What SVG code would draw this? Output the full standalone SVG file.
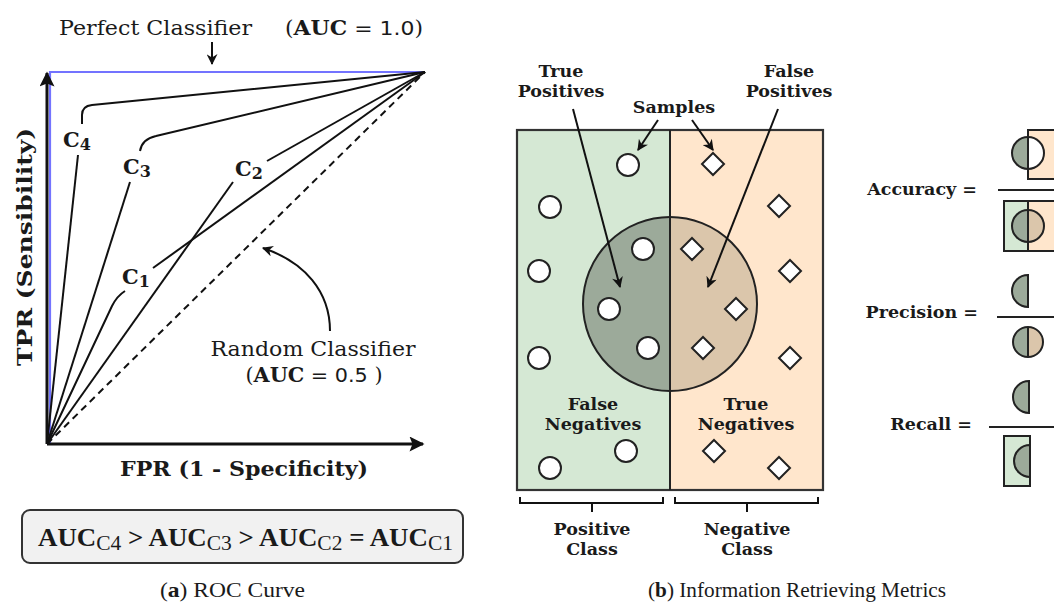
<svg xmlns="http://www.w3.org/2000/svg" width="1054" height="603" viewBox="0 0 1054 603">
<style>
.serif{font-family:"DejaVu Serif","Liberation Serif",serif;fill:#1a1a1a}
.bold{font-family:"DejaVu Serif","Liberation Serif",serif;font-weight:bold;fill:#1a1a1a}
.sans{font-family:"DejaVu Sans","Liberation Sans",sans-serif;font-weight:normal}
.cap{font-family:"Liberation Serif","DejaVu Serif",serif;fill:#1a1a1a}
.lbl{font-size:17.5px;text-anchor:middle}
.ln{fill:none;stroke:#111;stroke-width:2}
.arr{fill:none;stroke:#111;stroke-width:2;marker-end:url(#ah)}
.smp{fill:#fff;stroke:#222;stroke-width:2}
.edge{stroke:#222;stroke-width:2}
.gr{fill:#d5e8d4}
.or{fill:#ffe6cc}
.cg{fill:#9caa9a}
.ct{fill:#dbc6ab}
</style>
<defs>
<marker id="ah" viewBox="0 0 10 10" refX="9" refY="5" markerWidth="12" markerHeight="11" markerUnits="userSpaceOnUse" orient="auto">
<path d="M0,0 L10,5 L0,10 L3,5 z" fill="#111"/>
</marker>
<marker id="ax" viewBox="0 0 10 10" refX="9" refY="5" markerWidth="17" markerHeight="15" markerUnits="userSpaceOnUse" orient="auto">
<path d="M0,0 L10,5 L0,10 L2,5 z" fill="#111"/>
</marker>
</defs>
<rect width="1054" height="603" fill="#fff"/>

<!-- ROC chart -->
<g id="roc-perfect">
<path d="M50,444 V72 H425" fill="none" stroke="#7373ff" stroke-width="2.2"/>
</g>
<g id="roc-curves">
<path class="ln" d="M47,444 L78,155"/>
<path class="ln" d="M82,124 L82,115 Q82,106 92,105 L425,72"/>
<path class="ln" d="M47,444 L130,182"/>
<path class="ln" d="M140,151 Q142,139 156,136 L425,72"/>
<path class="ln" d="M47,444 L233,182"/>
<path class="ln" d="M267,161 L425,72"/>
<path class="ln" d="M47,444 L112,306 Q117,296 125,291"/>
<path class="ln" d="M153,268 L425,72"/>
<path class="ln" d="M47,444 L425,72" stroke-dasharray="7,5"/>
</g>
<g id="roc-labels">
<text class="bold" x="63" y="147" font-size="21">C<tspan font-size="16" dy="3">4</tspan></text>
<text class="bold" x="123" y="174" font-size="21">C<tspan font-size="16" dy="3">3</tspan></text>
<text class="bold" x="235" y="176" font-size="21">C<tspan font-size="16" dy="3">2</tspan></text>
<text class="bold" x="122" y="284" font-size="21">C<tspan font-size="16" dy="3">1</tspan></text>
</g>
<g id="roc-title">
<text class="serif" x="59" y="35" font-size="20" textLength="193" lengthAdjust="spacingAndGlyphs">Perfect Classifier</text>
<text class="serif" x="285" y="35" font-size="20" textLength="138" lengthAdjust="spacingAndGlyphs">(<tspan class="bold">AUC</tspan><tspan class="sans"> = 1.0</tspan>)</text>
</g>
<g id="roc-random">
<text class="serif" x="313" y="356" font-size="20" text-anchor="middle" textLength="205" lengthAdjust="spacingAndGlyphs">Random Classifier</text>
<text class="serif" x="314" y="382" font-size="20" text-anchor="middle" textLength="137" lengthAdjust="spacingAndGlyphs">(<tspan class="bold">AUC</tspan><tspan class="sans"> = 0.5 </tspan>)</text>
</g>
<g id="roc-axes-labels">
<text class="bold" x="244" y="476" font-size="20" text-anchor="middle" textLength="248" lengthAdjust="spacingAndGlyphs">FPR (1 - Specificity)</text>
<text class="bold" transform="translate(32,247) rotate(-90)" x="0" y="0" font-size="20" text-anchor="middle" textLength="238" lengthAdjust="spacingAndGlyphs">TPR (Sensibility)</text>
</g>
<g id="auc-box">
<rect x="22" y="510" width="441" height="53" rx="8" fill="#f1f1f1" stroke="#333" stroke-width="2"/>
<text class="cap" x="38" y="546" font-size="25" font-weight="bold" textLength="415" lengthAdjust="spacingAndGlyphs">AUC<tspan font-weight="normal" font-size="20" dy="4">C4</tspan><tspan dy="-4"> &gt; AUC</tspan><tspan font-weight="normal" font-size="20" dy="4">C3</tspan><tspan dy="-4"> &gt; AUC</tspan><tspan font-weight="normal" font-size="20" dy="4">C2</tspan><tspan dy="-4">  = AUC</tspan><tspan font-weight="normal" font-size="20" dy="4">C1</tspan></text>
</g>
<g id="caption-a">
<text class="cap" x="160" y="597" font-size="21" textLength="145" lengthAdjust="spacingAndGlyphs">(<tspan font-weight="bold">a</tspan>) ROC Curve</text>
</g>

<!-- Information retrieval panel -->
<g id="classes">
<rect class="gr" x="517" y="130" width="153" height="360"/>
<rect class="or" x="670" y="130" width="153" height="360"/>
<path class="cg" d="M670,217 A87,87 0 0 0 670,391 Z"/>
<path class="ct" d="M670,217 A87,87 0 0 1 670,391 Z"/>
<circle cx="670" cy="304" r="87" fill="none" stroke="#222" stroke-width="2"/>
<rect x="517" y="130" width="306" height="360" fill="none" stroke="#333" stroke-width="2.2"/>
<line class="edge" x1="670" y1="130" x2="670" y2="490"/>
</g>
<g id="positive-samples">
<circle class="smp" cx="628" cy="165" r="11"/>
<circle class="smp" cx="550" cy="207" r="11"/>
<circle class="smp" cx="539" cy="271" r="11"/>
<circle class="smp" cx="643" cy="249" r="11"/>
<circle class="smp" cx="609" cy="309" r="11"/>
<circle class="smp" cx="648" cy="348" r="11"/>
<circle class="smp" cx="539" cy="358" r="11"/>
<circle class="smp" cx="626" cy="451" r="11"/>
<circle class="smp" cx="550" cy="468" r="11"/>
</g>
<g id="negative-samples">
<path class="smp" d="M713,153 l11,11 l-11,11 l-11,-11 z"/>
<path class="smp" d="M779,195 l11,11 l-11,11 l-11,-11 z"/>
<path class="smp" d="M692,238 l11,11 l-11,11 l-11,-11 z"/>
<path class="smp" d="M790,260 l11,11 l-11,11 l-11,-11 z"/>
<path class="smp" d="M736,298 l11,11 l-11,11 l-11,-11 z"/>
<path class="smp" d="M703,337 l11,11 l-11,11 l-11,-11 z"/>
<path class="smp" d="M790,347 l11,11 l-11,11 l-11,-11 z"/>
<path class="smp" d="M714,440 l11,11 l-11,11 l-11,-11 z"/>
<path class="smp" d="M779,457 l11,11 l-11,11 l-11,-11 z"/>
</g>
<g id="label-tp">
<text class="bold lbl" x="561" y="77">True</text>
<text class="bold lbl" x="561" y="97">Positives</text>
</g>
<g id="label-fp">
<text class="bold lbl" x="789" y="77">False</text>
<text class="bold lbl" x="789" y="97">Positives</text>
</g>
<g id="label-samples">
<text class="bold lbl" x="674" y="113">Samples</text>
</g>
<g id="label-fn">
<text class="bold lbl" x="593" y="410">False</text>
<text class="bold lbl" x="593" y="430">Negatives</text>
</g>
<g id="label-tn">
<text class="bold lbl" x="746" y="410">True</text>
<text class="bold lbl" x="746" y="430">Negatives</text>
</g>
<g id="brackets">
<path class="ln" d="M520,497 V503 H663 V497 M592,503 V512"/>
<path class="ln" d="M675,497 V503 H818 V497 M747,503 V512"/>
</g>
<g id="label-pos-class">
<text class="bold lbl" x="592" y="535">Positive</text>
<text class="bold lbl" x="592" y="555">Class</text>
</g>
<g id="label-neg-class">
<text class="bold lbl" x="747" y="535">Negative</text>
<text class="bold lbl" x="747" y="555">Class</text>
</g>
<g id="caption-b">
<text class="cap" x="648" y="597" font-size="21" textLength="298" lengthAdjust="spacingAndGlyphs">(<tspan font-weight="bold">b</tspan>) Information Retrieving Metrics</text>
</g>

<!-- Formulas -->
<g id="accuracy">
<text class="bold" x="977" y="195" font-size="17.5" text-anchor="end">Accuracy =</text>
<rect class="or" x="1028" y="130" width="30" height="49" stroke="#222" stroke-width="2"/>
<path class="cg" d="M1028,137 A16,16 0 0 0 1028,169 Z"/>
<path d="M1028,137 A16,16 0 0 1 1028,169 Z" fill="#fff"/>
<circle cx="1028" cy="153" r="16" fill="none" stroke="#222" stroke-width="2"/>
<line class="edge" x1="1028" y1="130" x2="1028" y2="179"/>
<line class="edge" x1="998" y1="190" x2="1054" y2="190"/>
<rect class="gr" x="1004" y="201" width="24" height="50"/>
<rect class="or" x="1028" y="201" width="30" height="50"/>
<rect x="1004" y="201" width="54" height="50" fill="none" stroke="#222" stroke-width="2"/>
<path class="cg" d="M1028,210 A16,16 0 0 0 1028,242 Z"/>
<path class="ct" d="M1028,210 A16,16 0 0 1 1028,242 Z"/>
<circle cx="1028" cy="226" r="16" fill="none" stroke="#222" stroke-width="2"/>
<line class="edge" x1="1028" y1="201" x2="1028" y2="251"/>
</g>
<g id="precision">
<text class="bold" x="978" y="318" font-size="17.5" text-anchor="end">Precision =</text>
<path class="cg" d="M1028,275 A16,16 0 0 0 1028,307 Z" stroke="#222" stroke-width="2"/>
<line class="edge" x1="997" y1="317" x2="1054" y2="317"/>
<path class="cg" d="M1028,327 A15,15 0 0 0 1028,357 Z"/>
<path class="ct" d="M1028,327 A15,15 0 0 1 1028,357 Z"/>
<circle cx="1028" cy="342" r="15" fill="none" stroke="#222" stroke-width="2"/>
<line class="edge" x1="1028" y1="327" x2="1028" y2="357"/>
</g>
<g id="recall">
<text class="bold" x="972" y="430" font-size="17.5" text-anchor="end">Recall =</text>
<path class="cg" d="M1029,381 A16,16 0 0 0 1029,413 Z" stroke="#222" stroke-width="2"/>
<line class="edge" x1="989" y1="427" x2="1054" y2="427"/>
<rect class="gr" x="1004" y="436" width="26" height="50" stroke="#222" stroke-width="2"/>
<path class="cg" d="M1030,445 A16,16 0 0 0 1030,477 Z" stroke="#222" stroke-width="2"/>
</g>

<g id="connectors">
<path d="M47,444 V73" fill="none" stroke="#111" stroke-width="3" marker-end="url(#ax)"/>
<path d="M47,444 H423" fill="none" stroke="#111" stroke-width="3" marker-end="url(#ax)"/>
<path class="arr" d="M212,42 V64"/>
<path class="arr" d="M330,331 C330,292 305,262 263,248"/>
<path class="arr" d="M658,120 L638,150"/>
<path class="arr" d="M692,120 L713,150"/>
<path class="arr" d="M573,109 L620,287"/>
<path class="arr" d="M778,109 L708,287"/>
</g>
</svg>
